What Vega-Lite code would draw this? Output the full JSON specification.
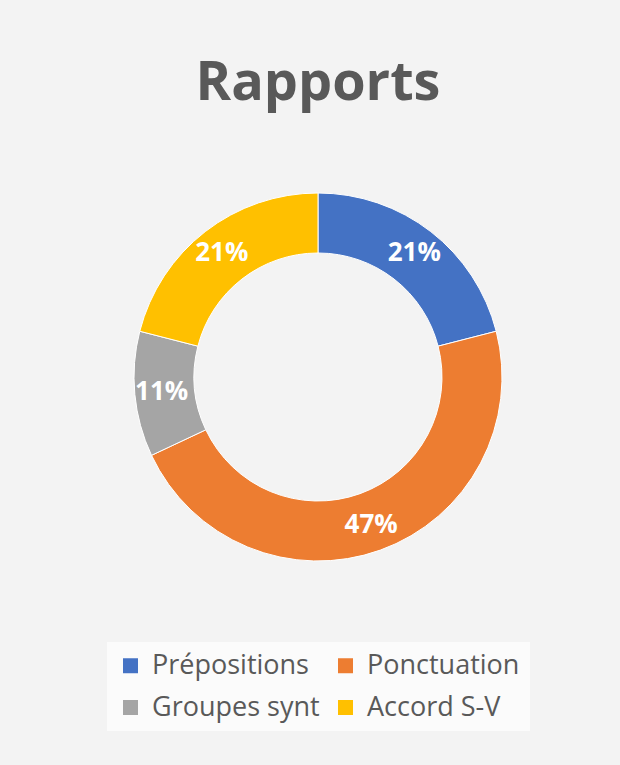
{
  "$schema": "https://vega.github.io/schema/vega-lite/v6.json",
  "width": 620,
  "height": 765,
  "autosize": {"type": "fit", "contains": "padding"},
  "padding": {"left": 16, "right": 0, "top": 57, "bottom": 34},
  "background": "#F3F3F3",
  "title": {
    "text": "Rapports",
    "font": "Open Sans",
    "fontSize": 54,
    "fontWeight": "bold",
    "color": "#595959",
    "anchor": "middle",
    "offset": 35
  },
  "data": {
    "values": [
      {"categorie": "Prépositions", "part": 0.21, "rang": 1},
      {"categorie": "Ponctuation", "part": 0.47, "rang": 2},
      {"categorie": "Groupes synt", "part": 0.11, "rang": 3},
      {"categorie": "Accord S-V", "part": 0.21, "rang": 4}
    ]
  },
  "encoding": {
    "theta": {"field": "part", "type": "quantitative", "stack": true},
    "order": {"field": "rang", "type": "quantitative"},
    "color": {
      "field": "categorie",
      "type": "nominal",
      "scale": {
        "domain": ["Prépositions", "Ponctuation", "Groupes synt", "Accord S-V"],
        "range": ["#4472C4", "#ED7D31", "#A5A5A5", "#FFC000"]
      },
      "legend": {
        "title": null,
        "orient": "bottom",
        "columns": 2,
        "symbolType": "square",
        "symbolSize": 225,
        "symbolStrokeWidth": 0,
        "labelFont": "Open Sans",
        "labelFontSize": 27,
        "labelColor": "#595959",
        "labelLimit": 400,
        "labelOffset": 8,
        "columnPadding": 12,
        "rowPadding": 14,
        "fillColor": "#FBFBFB",
        "padding": 10,
        "offset": 34
      }
    }
  },
  "layer": [
    {
      "mark": {"type": "arc", "radius": 184, "radius2": 124, "stroke": "white", "strokeWidth": 1}
    },
    {
      "mark": {"type": "text", "radius": 157, "font": "Open Sans", "fontSize": 26, "fontWeight": "bold", "fill": "white"},
      "encoding": {
        "text": {"field": "part", "type": "quantitative", "format": ".0%"},
        "color": {"value": "white"}
      }
    }
  ],
  "config": {
    "view": {"stroke": null},
    "legend": {"layout": {"bottom": {"anchor": "middle"}}}
  }
}
